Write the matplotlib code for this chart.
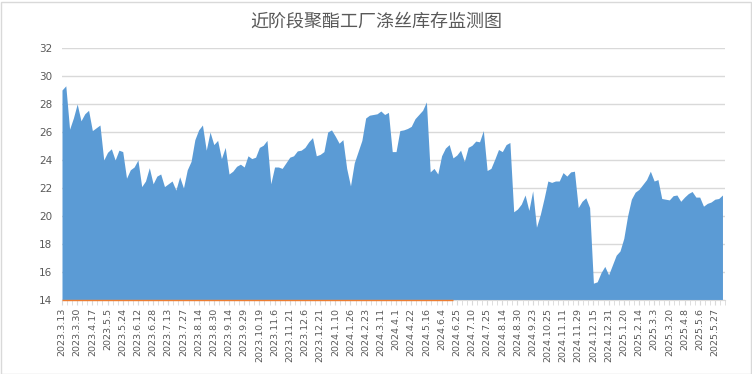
import matplotlib.pyplot as plt
import numpy as np
from matplotlib.patches import Rectangle

# Polyester filament inventory (days), 4 points per date label
inventory = [
    29.0, 29.3, 26.2, 27.0, 28.0, 26.8, 27.3, 27.55,
    26.1, 26.3, 26.5, 24.0, 24.55, 24.8, 24.0, 24.7,
    24.6, 22.7, 23.3, 23.5, 24.0, 22.1, 22.5, 23.45,
    22.3, 22.85, 23.0, 22.1, 22.3, 22.5, 21.85, 22.8,
    22.0, 23.3, 23.9, 25.45, 26.15, 26.5, 24.7, 26.0,
    25.1, 25.4, 24.1, 24.9, 23.0, 23.2, 23.55, 23.7,
    23.5, 24.3, 24.1, 24.2, 24.9, 25.05, 25.4, 22.3,
    23.5, 23.5, 23.4, 23.8, 24.2, 24.3, 24.65, 24.7,
    24.9, 25.3, 25.6, 24.3, 24.4, 24.6, 26.0, 26.15,
    25.7, 25.2, 25.45, 23.4, 22.15, 23.8, 24.6, 25.4,
    27.0, 27.2, 27.25, 27.3, 27.5, 27.25, 27.4, 24.6,
    24.6, 26.1, 26.15, 26.25, 26.4, 26.95, 27.25, 27.55,
    28.15, 23.15, 23.4, 23.0, 24.3, 24.85, 25.1, 24.15,
    24.35, 24.7, 23.9, 24.9, 25.05, 25.35, 25.3, 26.1,
    23.25, 23.4, 24.05, 24.75, 24.6, 25.1, 25.25, 20.3,
    20.5, 20.85, 21.5, 20.4, 21.8, 19.2, 20.1, 21.25,
    22.5, 22.4, 22.5, 22.5, 23.1, 22.85, 23.15, 23.2,
    20.6, 21.05, 21.3, 20.6, 15.2, 15.3, 15.95, 16.4,
    15.8, 16.5, 17.2, 17.5, 18.4, 20.0, 21.2, 21.7,
    21.9, 22.25, 22.6, 23.2, 22.5, 22.6, 21.25, 21.2,
    21.15, 21.45, 21.5, 21.05, 21.35, 21.6, 21.75, 21.35,
    21.35, 20.7, 20.9, 21.0, 21.2, 21.25, 21.5,
]

date_labels = [
    '2023.3.13', '2023.3.30', '2023.4.17', '2023.5.5', '2023.5.24', '2023.6.12',
    '2023.6.28', '2023.7.13', '2023.7.27', '2023.8.14', '2023.8.30', '2023.9.14',
    '2023.9.29', '2023.10.19', '2023.11.6', '2023.11.21', '2023.12.6', '2023.12.21',
    '2024.1.10', '2024.1.26', '2024.2.23', '2024.3.11', '2024.4.1', '2024.4.22',
    '2024.5.16', '2024.6.4', '2024.6.25', '2024.7.10', '2024.7.25', '2024.8.14',
    '2024.8.30', '2024.9.23', '2024.10.25', '2024.11.11', '2024.11.29', '2024.12.15',
    '2024.12.31', '2025.1.20', '2025.2.14', '2025.3.3', '2025.3.20', '2025.4.8',
    '2025.5.6', '2025.5.27',
]

plt.rcParams['font.family'] = ['Noto Sans CJK SC', 'DejaVu Sans']

x = np.arange(len(inventory))
fig = plt.figure(figsize=(7.52, 3.74), dpi=100)
ax = fig.add_axes([62 / 752, 1 - 300 / 374, (725 - 62) / 752, (300 - 48) / 374])

ax.fill_between(x, 14, inventory, color='#5B9BD5', linewidth=0, zorder=2)
ax.set_xlim(0, len(inventory) - 1)
ax.set_ylim(14, 32)
ax.set_yticks(np.arange(14, 33, 2))
ax.grid(axis='y', color='#D9D9D9', linewidth=1, zorder=0)
ax.set_axisbelow(True)

ax.set_xticks(np.arange(len(date_labels)) * 4)
ax.set_xticklabels(date_labels, rotation=90, family='DejaVu Sans', fontsize=6.8, color='#595959')
ax.set_xticks(np.arange(0, len(inventory), 4 / 3), minor=True)
ax.tick_params(axis='x', which='both', length=3.5, color='#D9D9D9', pad=2)
ax.tick_params(axis='y', length=0, pad=7, labelsize=7.5, labelcolor='#595959')
for lab in ax.get_yticklabels():
    lab.set_family('DejaVu Sans')

for s in ['top', 'right', 'left']:
    ax.spines[s].set_visible(False)
ax.spines['bottom'].set_color('#D9D9D9')
ax.hlines(14, 0, 103, color='#ED7D31', linewidth=1.0, zorder=3, clip_on=False)

fig.text(376 / 752, 1 - 22 / 374, '近阶段聚酯工厂涤丝库存监测图', ha='center', va='center',
         fontsize=13, color='#595959')

fig.patches.append(Rectangle((0.5 / 752, 0.5 / 374), 750 / 752, 372 / 374,
                             transform=fig.transFigure, fill=False,
                             edgecolor='#D9D9D9', linewidth=1))

fig.savefig('out.png', dpi=100)
